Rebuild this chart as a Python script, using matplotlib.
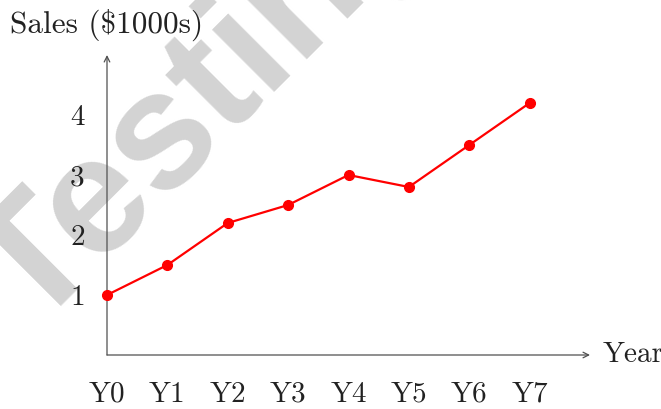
import numpy as np
import matplotlib
matplotlib.use('Agg')
import matplotlib.pyplot as plt
from matplotlib.font_manager import FontProperties

years = ['Y0', 'Y1', 'Y2', 'Y3', 'Y4', 'Y5', 'Y6', 'Y7']
sales = [1.0, 1.5, 2.2, 2.5, 3.0, 2.8, 3.5, 4.2]
yticks = [1, 2, 3, 4]

plt.rcParams['font.family'] = ['cmr10', 'DejaVu Serif']
plt.rcParams['axes.unicode_minus'] = False

fig = plt.figure(figsize=(6.61, 4.09), dpi=100)
W, H = 661, 409
ax = fig.add_axes([107 / W, (H - 355) / H, (590 - 107) / W, 300 / H])
ax.set_xlim(0, 8)
ax.set_ylim(0, 5)
ax.patch.set_alpha(0)
ax.set_zorder(2)

# watermark: size it so 'e' and 'i' land where they sit in the picture
wm = 'Testing'
r = fig.canvas.get_renderer()
def tw(s, size):
    fp = FontProperties(family=['Liberation Sans', 'DejaVu Sans'], weight='bold', size=size)
    return r.get_text_width_height_descent(s, fp, ismath=False)[0]
def centres(size):
    ce = (tw('T', size) + tw('Te', size)) / 2
    ci = (tw('Test', size) + tw('Testi', size)) / 2
    return ce, ci
ce, ci = centres(100)
wsize = 100 * 212 / (ci - ce)
ce, ci = centres(wsize)
u0 = -70 - ce          # along the baseline, left end of the word
v0 = 258               # baseline offset
sq = np.sqrt(2)
fig.text((u0 + v0) / sq / W, 1 - (v0 - u0) / sq / H, wm, fontsize=wsize,
         fontweight='bold', family=['Liberation Sans', 'DejaVu Sans'],
         color='#d3d3d3', rotation=45, ha='left', va='baseline',
         rotation_mode='anchor', zorder=0)

x = np.arange(len(years))
ax.plot(x, sales, color='red', lw=1.6, marker='o', ms=7, clip_on=False, zorder=5)

for s in ax.spines.values():
    s.set_visible(False)
axcol = '#505050'
ax.annotate('', xy=(1, 0), xytext=(0, 0), xycoords='axes fraction',
            arrowprops=dict(arrowstyle='->', color=axcol, lw=0.9,
                            shrinkA=0, shrinkB=0))
ax.annotate('', xy=(0, 1), xytext=(0, 0), xycoords='axes fraction',
            arrowprops=dict(arrowstyle='->', color=axcol, lw=0.9,
                            shrinkA=0, shrinkB=0))

fs = 21
ax.set_xticks(x)
ax.set_xticklabels(years)
ax.set_yticks(yticks)
ax.set_yticklabels([str(v) for v in yticks])
ax.tick_params(length=0, labelsize=fs, colors='#222222')
ax.tick_params(axis='x', pad=19)
ax.tick_params(axis='y', pad=16)

fig.text(10 / W, 1 - 25 / H, r'Sales (\$1000s)', fontsize=22.5, color='#222222',
         ha='left', va='center')
fig.text(603 / W, 1 - 355 / H, 'Year', fontsize=fs, color='#222222',
         ha='left', va='center')

fig.savefig('out.png', dpi=100)
